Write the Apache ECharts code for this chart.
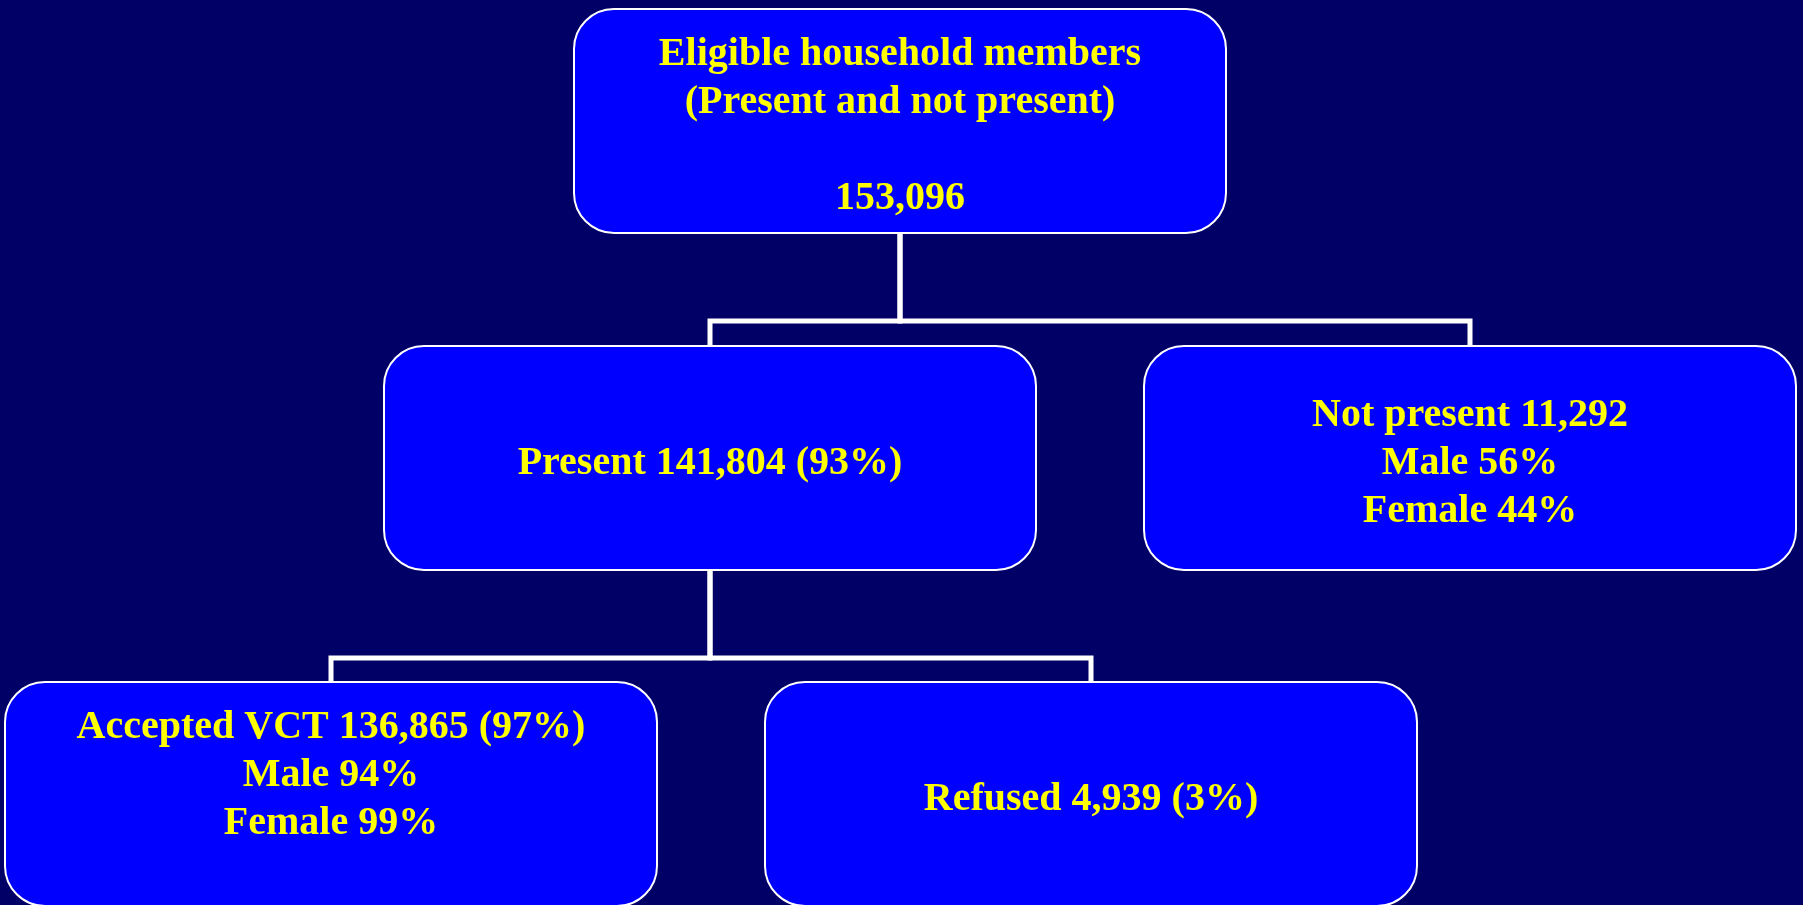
<!DOCTYPE html>
<html>
<head>
<meta charset="utf-8">
<script src="https://cdn.jsdelivr.net/npm/echarts@6/dist/echarts.min.js"></script>
<style>
  html, body { margin: 0; padding: 0; background: #000066; }
  #chart { width: 1803px; height: 905px; }
</style>
</head>
<body>
<div id="chart"></div>
<script>
// box texts, one per node
const nodeText = [
  'Eligible household members\n(Present and not present)\n\n153,096',
  'Present 141,804 (93%)',
  'Not present 11,292\nMale 56%\nFemale 44%',
  'Accepted VCT 136,865 (97%)\nMale 94%\nFemale 99%\n',
  'Refused 4,939 (3%)'
]
// parent of each node (-1 = root)
const nodeParent = [-1, 0, 0, 1, 1]
// level of each node in the tree
const nodeLevel = [0, 1, 1, 2, 2]

// layout (pixel space of the hidden axes)
const boxW = 652
const boxH = 224
const levelTop = [9, 346, 682]
const nodeLeft = [574, 384, 1144, 5, 765]

let chart = echarts.init(document.getElementById('chart'), null, { renderer: 'canvas' })

let boxData = nodeText.map((t, i) => [nodeLeft[i], levelTop[nodeLevel[i]], i])
let linkData = []
nodeParent.forEach((p, i) => {
  if (p >= 0) linkData.push([p, i])
})

function renderBox(params, api) {
  let i = api.value(2)
  let p0 = api.coord([api.value(0), api.value(1)])
  let s = api.size([boxW, boxH])
  return {
    type: 'group',
    children: [{
      type: 'rect',
      shape: { x: p0[0], y: p0[1], width: s[0], height: s[1], r: 40 },
      style: { fill: '#0000ff', stroke: '#ffffff', lineWidth: 2 }
    }, {
      type: 'text',
      style: {
        text: nodeText[i],
        x: p0[0] + s[0] / 2,
        y: p0[1] + s[1] / 2 + 6,
        align: 'center',
        verticalAlign: 'middle',
        fill: '#ffff00',
        fontFamily: '"Liberation Serif", "Times New Roman", serif',
        fontWeight: 'bold',
        fontSize: 40,
        lineHeight: 48
      }
    }]
  }
}

function renderLink(params, api) {
  let p = api.value(0)
  let c = api.value(1)
  let px = nodeLeft[p] + boxW / 2
  let pb = levelTop[nodeLevel[p]] + boxH
  let cx = nodeLeft[c] + boxW / 2
  let ct = levelTop[nodeLevel[c]]
  let midY = pb + 88
  let pts = [[px, pb], [px, midY], [cx, midY], [cx, ct]].map(q => api.coord(q))
  return {
    type: 'polyline',
    shape: { points: pts },
    style: { stroke: '#ffffff', lineWidth: 5, fill: null, lineJoin: 'miter' }
  }
}

chart.setOption({
  backgroundColor: '#000066',
  animation: false,
  grid: { left: 0, right: 0, top: 0, bottom: 0 },
  xAxis: { type: 'value', min: 0, max: 1803, show: false },
  yAxis: { type: 'value', min: 0, max: 905, inverse: true, show: false },
  series: [{
    type: 'custom',
    renderItem: renderLink,
    data: linkData,
    z: 1
  }, {
    type: 'custom',
    renderItem: renderBox,
    data: boxData,
    z: 2
  }]
})
</script>
</body>
</html>
